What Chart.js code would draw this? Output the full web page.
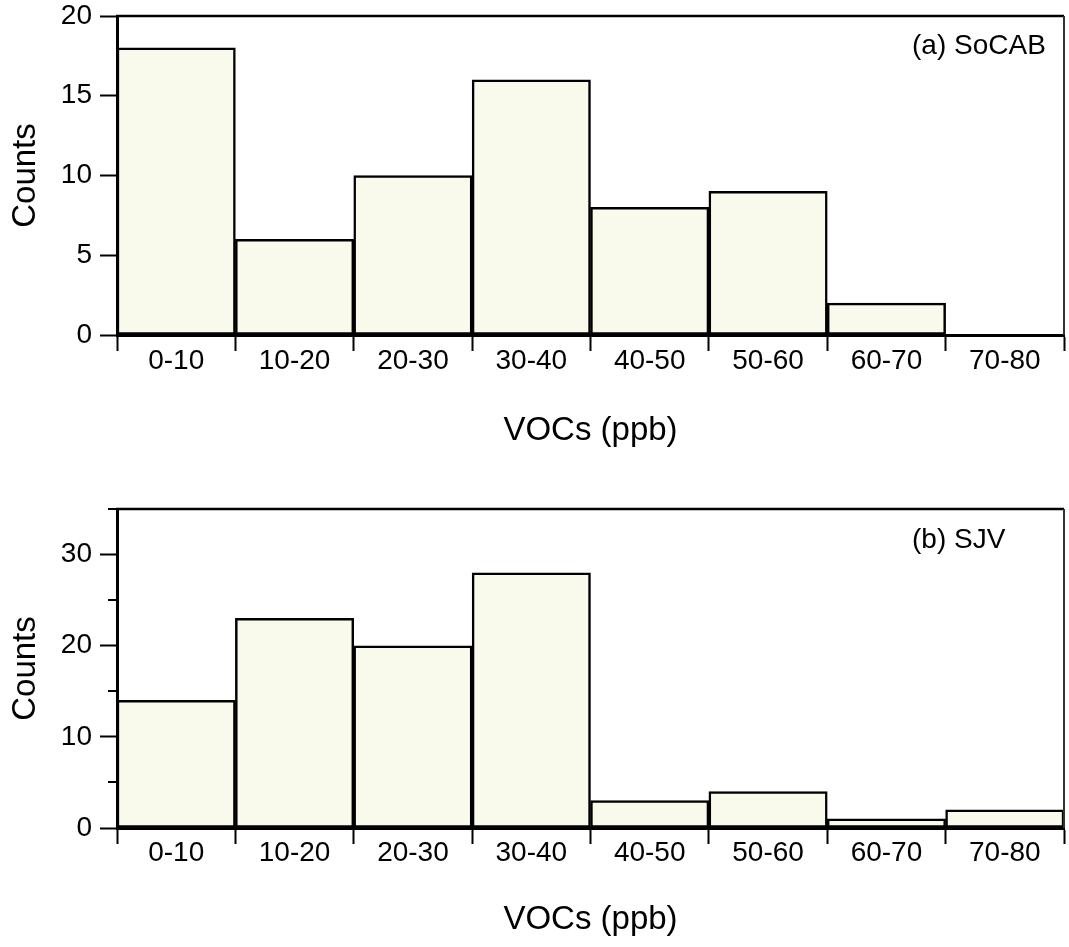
<!DOCTYPE html>
<html>
<head>
<meta charset="utf-8">
<title>VOCs histograms</title>
<script src="https://cdn.jsdelivr.net/npm/chart.js@4.4.1/dist/chart.umd.min.js"></script>
<style>
  body { margin: 0; background: #fff; }
  #wrap { position: relative; width: 1069px; height: 947px; }
  .panel { position: absolute; left: 0; width: 1069px; }
  #top { top: 0; height: 470px; }
  #bottom { top: 470px; height: 477px; }
</style>
</head>
<body>
<div id="wrap">
  <div class="panel" id="top"><canvas id="chartA"></canvas></div>
  <div class="panel" id="bottom"><canvas id="chartB"></canvas></div>
</div>
<script>
// bins and counts
const categories = ['0-10', '10-20', '20-30', '30-40', '40-50', '50-60', '60-70', '70-80'];
const socabCounts = [18, 6, 10, 16, 8, 9, 2, 0];
const sjvCounts = [14, 23, 20, 28, 3, 4, 1, 2];

const socabMajorTicks = [0, 5, 10, 15, 20];
const socabMinorTicks = [];
const sjvMajorTicks = [0, 10, 20, 30];
const sjvMinorTicks = [5, 15, 25, 35];

const FONT = "'Liberation Sans', Arial, sans-serif";
Chart.defaults.font.family = FONT;
Chart.defaults.color = '#000';

// top + right frame lines, short minor ticks and the panel label
const framePlugin = {
    id: 'frame',
    afterDraw(chart, args, opts) {
        const ctx = chart.ctx;
        const area = chart.chartArea;
        const y = chart.scales.y;
        ctx.save();
        ctx.strokeStyle = '#000';
        ctx.lineWidth = 2.5;
        ctx.beginPath();
        ctx.moveTo(area.left - 1, Math.round(area.top));
        ctx.lineTo(area.right, Math.round(area.top));
        ctx.stroke();

        ctx.strokeStyle = '#333';
        ctx.lineWidth = 2;
        ctx.beginPath();
        ctx.moveTo(Math.round(area.right), area.top);
        ctx.lineTo(Math.round(area.right), area.bottom);
        ctx.stroke();

        ctx.strokeStyle = '#000';
        opts.minorTicks.forEach(v => {
            const py = Math.round(y.getPixelForValue(v));
            ctx.beginPath();
            ctx.moveTo(area.left - 9, py);
            ctx.lineTo(area.left, py);
            ctx.stroke();
        });

        ctx.fillStyle = '#000';
        ctx.font = '28px ' + FONT;
        ctx.textAlign = 'left';
        ctx.textBaseline = 'middle';
        ctx.fillText(opts.label, opts.labelX, opts.labelY);
        ctx.restore();
    }
};

function makeChart(id, values, cfg) {
    const ctx = document.getElementById(id).getContext('2d');
    return new Chart(ctx, {
        type: 'bar',
        data: {
            labels: categories,
            datasets: [{
                data: values,
                backgroundColor: '#f9f9ec',
                borderColor: '#000',
                borderWidth: 2.5,
                borderSkipped: false,
                barPercentage: 1,
                categoryPercentage: 1
            }]
        },
        options: {
            responsive: true,
            maintainAspectRatio: false,
            animation: false,
            layout: {
                padding: { top: cfg.padTop, right: 5, left: 0, bottom: 0 }
            },
            plugins: {
                legend: { display: false },
                tooltip: { enabled: false },
                frame: {
                    label: cfg.label,
                    labelX: 912,
                    labelY: cfg.labelY,
                    minorTicks: cfg.minorTicks
                }
            },
            scales: {
                x: {
                    offset: true,
                    grid: {
                        offset: true,
                        drawOnChartArea: false,
                        tickLength: 16,
                        tickWidth: 2,
                        tickColor: '#000'
                    },
                    border: { display: true, color: '#000', width: 3 },
                    ticks: {
                        font: { size: 28, lineHeight: 1 },
                        padding: cfg.labelPad,
                        maxRotation: 0
                    },
                    title: {
                        display: true,
                        text: 'VOCs (ppb)',
                        font: { size: 33, lineHeight: 1.2 },
                        padding: { top: 0, bottom: cfg.titlePad }
                    },
                    afterFit(scale) { scale.height = cfg.xHeight; }
                },
                y: {
                    min: 0,
                    max: cfg.yMax,
                    grid: {
                        drawOnChartArea: false,
                        tickLength: 17,
                        tickWidth: 2,
                        tickColor: '#000'
                    },
                    border: { display: true, color: '#000', width: 3 },
                    ticks: {
                        font: { size: 28, lineHeight: 0.5 },
                        padding: 8
                    },
                    afterBuildTicks(scale) {
                        scale.ticks = cfg.majorTicks.map(v => ({ value: v }));
                    },
                    title: {
                        display: true,
                        text: 'Counts',
                        font: { size: 33, lineHeight: 1.2 },
                        padding: { top: 6, bottom: 0 }
                    },
                    afterFit(scale) { scale.width = 117; }
                }
            }
        },
        plugins: [framePlugin]
    });
}

makeChart('chartA', socabCounts, {
    yMax: 20,
    majorTicks: socabMajorTicks,
    minorTicks: socabMinorTicks,
    label: '(a) SoCAB',
    labelY: 46,
    padTop: 16,
    xHeight: 135,
    labelPad: -4,
    titlePad: 19
});

makeChart('chartB', sjvCounts, {
    yMax: 35,
    majorTicks: sjvMajorTicks,
    minorTicks: sjvMinorTicks,
    label: '(b) SJV',
    labelY: 70,
    padTop: 39,
    xHeight: 119,
    labelPad: -5,
    titlePad: 7
});
</script>
</body>
</html>
